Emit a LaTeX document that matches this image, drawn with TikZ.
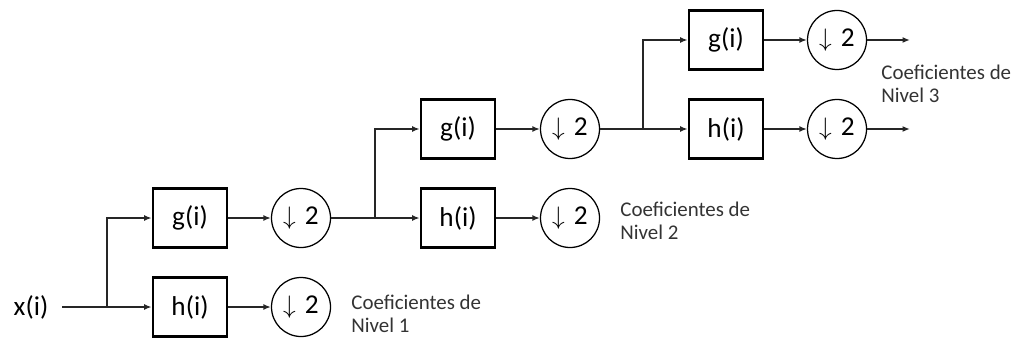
\documentclass[tikz,border=0pt]{standalone}
\usepackage{fontspec}
\setmainfont{Carlito}
\usepackage{tikz}
\usetikzlibrary{arrows.meta}

\tikzset{
	filtro/.style={draw=black, line width=0.55mm, minimum width=1.48cm, minimum height=1.18cm, inner sep=0pt, font=\fontsize{15.5}{18}\selectfont},
	diezmo/.style={draw=black, circle, line width=0.25mm, minimum size=1.18cm, inner sep=0pt, font=\fontsize{15.5}{18}\selectfont},
	flecha/.style={-{Latex[length=1.5mm,width=1.2mm]}, line width=0.3mm, color=black!85},
	etiqueta/.style={align=left, anchor=west, inner sep=0pt, font=\fontsize{11.9}{13}\selectfont, color=black!80}
}

\begin{document}
\begin{tikzpicture}
		\useasboundingbox (0,0) rectangle (20.30,6.78);

		% entrada
		\node[inner sep=0pt, font=\fontsize{15.5}{18}\selectfont] (xi) at (0.62,0.64) {x(i)};
		\coordinate (in) at (1.24,0.64);

		% nivel 1
		\coordinate (b1) at (2.14,0.64);
		\node[filtro] (g1) at (3.80,2.42) {g(i)};
		\node[filtro] (h1) at (3.80,0.64) {h(i)};
		\node[diezmo] (dg1) at (6.02,2.42) {$\downarrow$\,\,2};
		\node[diezmo] (dh1) at (6.02,0.64) {$\downarrow$\,\,2};
		\node[etiqueta] (c1) at (7.02,0.50) {Coeficientes de\\Nivel 1};

		% nivel 2
		\coordinate (b2) at (7.50,2.42);
		\node[filtro] (g2) at (9.16,4.20) {g(i)};
		\node[filtro] (h2) at (9.16,2.42) {h(i)};
		\node[diezmo] (dg2) at (11.40,4.20) {$\downarrow$\,\,2};
		\node[diezmo] (dh2) at (11.40,2.42) {$\downarrow$\,\,2};
		\node[etiqueta] (c2) at (12.40,2.36) {Coeficientes de\\Nivel 2};

		% nivel 3
		\coordinate (b3) at (12.86,4.20);
		\node[filtro] (g3) at (14.52,5.98) {g(i)};
		\node[filtro] (h3) at (14.52,4.20) {h(i)};
		\node[diezmo] (dg3) at (16.74,5.98) {$\downarrow$\,\,2};
		\node[diezmo] (dh3) at (16.74,4.20) {$\downarrow$\,\,2};
		\coordinate (og) at (18.20,5.98);
		\coordinate (oh) at (18.20,4.20);
		\node[etiqueta] (c3) at (17.62,5.10) {Coeficientes de\\Nivel 3};


		\draw[flecha] (in) -- (h1);
		\draw[flecha] (b1) |- (g1);
		\draw[flecha] (g1) -- (dg1);
		\draw[flecha] (h1) -- (dh1);

		\draw[flecha] (dg1) -- (h2);
		\draw[flecha] (b2) |- (g2);
		\draw[flecha] (g2) -- (dg2);
		\draw[flecha] (h2) -- (dh2);

		\draw[flecha] (dg2) -- (h3);
		\draw[flecha] (b3) |- (g3);
		\draw[flecha] (g3) -- (dg3);
		\draw[flecha] (h3) -- (dh3);
		\draw[flecha] (dg3) -- (og);
		\draw[flecha] (dh3) -- (oh);

	\end{tikzpicture}
\end{document}
